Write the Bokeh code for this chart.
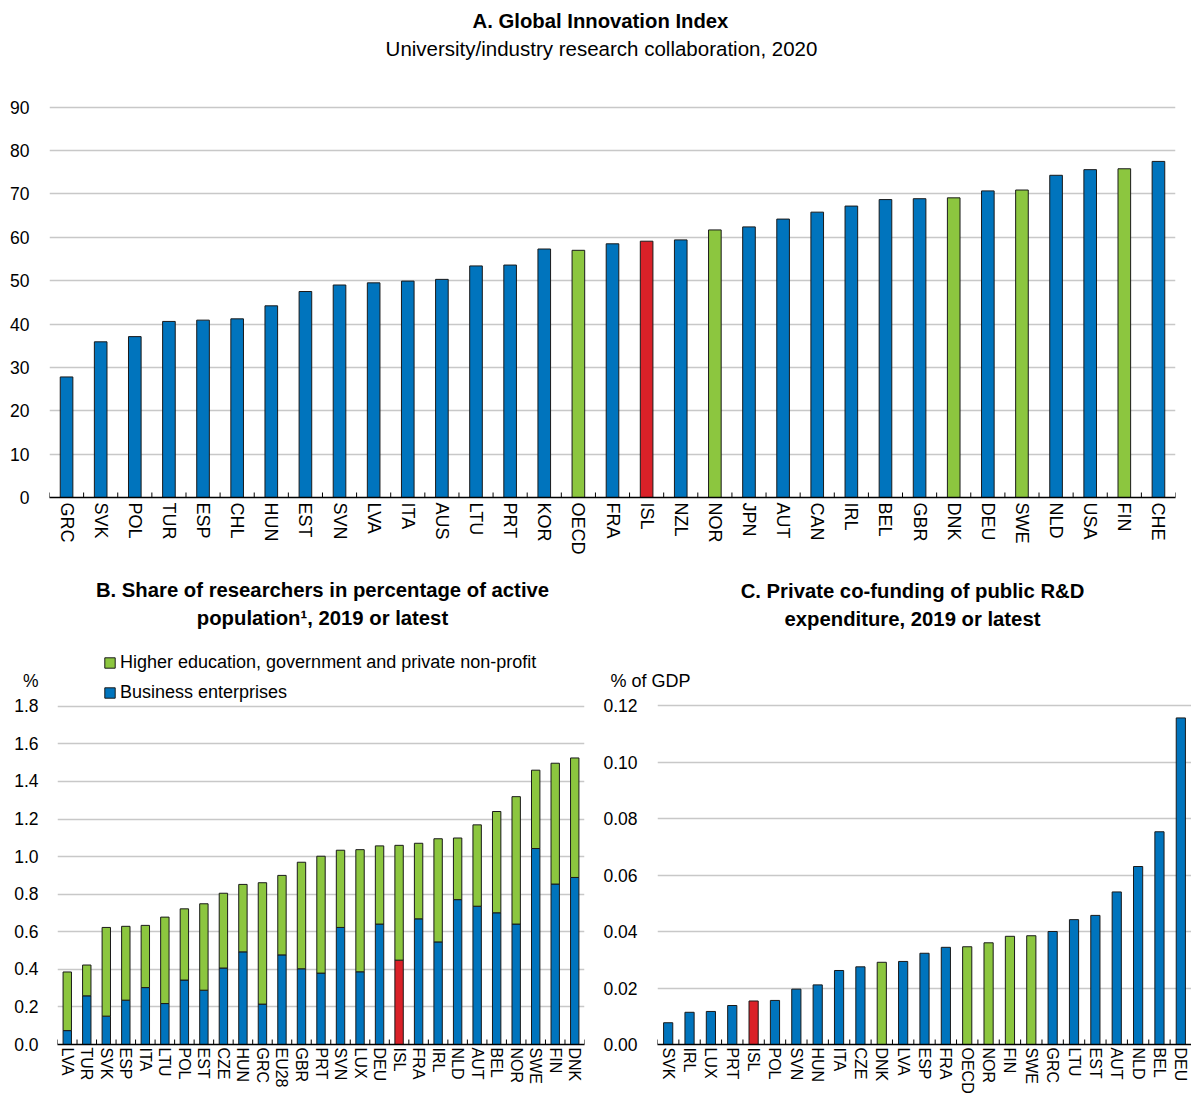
import numpy as np
from bokeh.plotting import figure
from bokeh.models import (ColumnDataSource, FactorRange, Range1d, FixedTicker, Label,
                          Legend, LegendItem, PrintfTickFormatter, LinearAxis)
from bokeh.layouts import column, row
from bokeh.embed import file_html
from bokeh.resources import INLINE

# ---------------- data ----------------
# Panel A: Global Innovation Index, university/industry research collaboration, 2020
a_countries = ["GRC", "SVK", "POL", "TUR", "ESP", "CHL", "HUN", "EST", "SVN", "LVA", "ITA",
               "AUS", "LTU", "PRT", "KOR", "OECD", "FRA", "ISL", "NZL", "NOR", "JPN", "AUT",
               "CAN", "IRL", "BEL", "GBR", "DNK", "DEU", "SWE", "NLD", "USA", "FIN", "CHE"]
a_values = [27.8, 35.9, 37.1, 40.6, 40.9, 41.2, 44.2, 47.5, 49.0, 49.5, 49.9,
            50.3, 53.4, 53.6, 57.3, 57.0, 58.5, 59.1, 59.4, 61.7, 62.4, 64.2,
            65.8, 67.2, 68.7, 68.9, 69.1, 70.7, 70.9, 74.3, 75.6, 75.8, 77.5]
a_ticks = [0, 10, 20, 30, 40, 50, 60, 70, 80, 90]

# Panel B: share of researchers in % of active population
b_countries = ["LVA", "TUR", "SVK", "ESP", "ITA", "LTU", "POL", "EST", "CZE", "HUN", "GRC",
               "EU28", "GBR", "PRT", "SVN", "LUX", "DEU", "ISL", "FRA", "IRL", "NLD", "AUT",
               "BEL", "NOR", "SWE", "FIN", "DNK"]
b_business = [0.074, 0.259, 0.151, 0.236, 0.303, 0.218, 0.343, 0.289, 0.407, 0.493, 0.215,
              0.477, 0.403, 0.380, 0.623, 0.387, 0.641, 0.449, 0.669, 0.546, 0.771, 0.736,
              0.701, 0.641, 1.043, 0.854, 0.889]
b_higher = [0.312, 0.164, 0.472, 0.393, 0.331, 0.460, 0.379, 0.460, 0.398, 0.359, 0.646,
            0.423, 0.567, 0.622, 0.411, 0.650, 0.416, 0.611, 0.402, 0.549, 0.328, 0.433,
            0.539, 0.678, 0.417, 0.643, 0.636]
b_ticks = [0.0, 0.2, 0.4, 0.6, 0.8, 1.0, 1.2, 1.4, 1.6, 1.8]
b_series = ["Higher education, government and private non-profit", "Business enterprises"]

# Panel C: private co-funding of public R&D expenditure, % of GDP
c_countries = ["SVK", "IRL", "LUX", "PRT", "ISL", "POL", "SVN", "HUN", "ITA", "CZE", "DNK",
               "LVA", "ESP", "FRA", "OECD", "NOR", "FIN", "SWE", "GRC", "LTU", "EST", "AUT",
               "NLD", "BEL", "DEU"]
c_values = [0.0077, 0.0114, 0.0117, 0.0138, 0.0154, 0.0156, 0.0196, 0.0211, 0.0262, 0.0275,
            0.0291, 0.0294, 0.0323, 0.0344, 0.0346, 0.0360, 0.0383, 0.0385, 0.0400, 0.0442,
            0.0457, 0.0540, 0.0630, 0.0753, 0.1156]
c_ticks = [0.0, 0.02, 0.04, 0.06, 0.08, 0.10, 0.12]

# ---------------- style ----------------
FONT = "Liberation Sans"
BLUE = "#0074BD"
GREEN = "#8CC63F"
RED = "#DA2128"
GRID = "#C8C8C8"
NORDIC = {"OECD", "NOR", "DNK", "SWE", "FIN"}


def colour(c):
    if c == "ISL":
        return RED
    return GREEN if c in NORDIC else BLUE


def style(p, ticks, fmt, xfont, ystand, xstand):
    p.outline_line_color = None
    p.xgrid.grid_line_color = None
    p.ygrid.ticker = FixedTicker(ticks=ticks)
    p.ygrid.grid_line_color = GRID
    p.ygrid.grid_line_width = 1.6
    p.yaxis.ticker = FixedTicker(ticks=ticks)
    p.yaxis.formatter = PrintfTickFormatter(format=fmt)
    p.yaxis.axis_line_color = None
    p.yaxis.major_tick_line_color = None
    p.yaxis.minor_tick_line_color = None
    p.yaxis.major_tick_out = 0
    p.yaxis.major_tick_in = 0
    p.yaxis.major_label_standoff = ystand
    p.yaxis.major_label_text_font = FONT
    p.yaxis.major_label_text_font_size = "17.5px"
    p.yaxis.major_label_text_color = "black"
    p.xaxis.axis_line_color = "black"
    p.xaxis.axis_line_width = 1.3
    p.xaxis.major_tick_line_color = None
    p.xaxis.major_tick_out = 0
    p.xaxis.major_tick_in = 0
    p.xaxis.axis_label = None
    p.xaxis.axis_label_standoff = 0
    p.xaxis.major_label_orientation = "vertical"
    p.xaxis.major_label_standoff = xstand
    p.xaxis.major_label_text_font = FONT
    p.xaxis.major_label_text_font_size = xfont
    p.xaxis.major_label_text_color = "black"


def add_text(p, x, y, text, size, bold=False, align="center"):
    p.add_layout(Label(x=x, y=y, text=text, text_font=FONT, text_font_size=size,
                       text_font_style="bold" if bold else "normal", text_align=align,
                       text_baseline="middle", text_color="black"))


# ---------------- Panel A ----------------
# frame geometry in page pixels (page has no offset)
A_left, A_right, A_top, A_bottom, A_y90 = 49, 1175, 0, 497, 106.7
A_ppu = (A_bottom - A_y90) / 90
A_ymax = (A_bottom - A_top) / A_ppu
nA = len(a_countries)
A_step = (A_right - A_left) / nA

pA = figure(width=1191, height=560, x_range=FactorRange(*a_countries),
            y_range=Range1d(0, A_ymax), output_backend="svg", toolbar_location=None,
            min_border_left=A_left, min_border_right=1191 - A_right,
            min_border_top=0, min_border_bottom=560 - A_bottom)
srcA = ColumnDataSource(dict(cat=a_countries, val=a_values,
                             col=[colour(c) for c in a_countries]))
pA.vbar(x="cat", top="val", width=0.37, source=srcA, fill_color="col",
        line_color="#1a1a1a", line_width=1)
pA.segment(x0=list(range(nA + 1)), y0=0, x1=list(range(nA + 1)), y1=5 / A_ppu,
           line_color="black", line_width=1)
style(pA, a_ticks, "%d", "18px", 20, 5)


def ax(px):
    return (px - A_left) / A_step


def ay(py):
    return (A_bottom - py) / A_ppu


add_text(pA, ax(600), ay(20), "A. Global Innovation Index", "20.3px", bold=True)
add_text(pA, ax(601), ay(48), "University/industry research collaboration, 2020", "20.5px")

# ---------------- Panel B ----------------
B_left, B_right, B_top, B_bottom, B_y18 = 57, 584, 560, 1047, 706.7
B_ppu = (B_bottom - B_y18) / 1.8
B_ymax = (B_bottom - B_top) / B_ppu
nB = len(b_countries)
B_step = (B_right - B_left) / nB


def bx(px):
    return (px - B_left) / B_step


def by(py):
    return (B_bottom - py) / B_ppu


pB = figure(width=600, height=537, x_range=FactorRange(*b_countries),
            y_range=Range1d(0, B_ymax), output_backend="svg", toolbar_location=None,
            min_border_left=B_left, min_border_right=600 - B_right,
            min_border_top=0, min_border_bottom=1097 - B_bottom)
srcB = ColumnDataSource(dict(cat=b_countries, business=b_business, higher=b_higher,
                             bcol=[RED if c == "ISL" else BLUE for c in b_countries]))
rB = pB.vbar_stack(["business", "higher"], x="cat", width=0.43, source=srcB,
                   fill_color=["bcol", GREEN], line_color="#1a1a1a", line_width=1)
pB.segment(x0=list(range(nB + 1)), y0=0, x1=list(range(nB + 1)), y1=5 / B_ppu,
           line_color="black", line_width=1)
style(pB, b_ticks, "%.1f", "16px", 19, 3)
# unit label "%" shown as an extra label on the y axis
pct_y = round(by(681), 4)
pB.yaxis.ticker = FixedTicker(ticks=b_ticks + [pct_y])
pB.yaxis.major_label_overrides = {pct_y: "%"}

add_text(pB, bx(322), by(590), "B. Share of researchers in percentage of active", "20.3px", bold=True)
add_text(pB, bx(322), by(618), "population\u00b9, 2019 or latest", "20.3px", bold=True)

legB = Legend(items=[LegendItem(label=b_series[0], renderers=[rB[1]]),
                     LegendItem(label=b_series[1], renderers=[rB[0]], index=0)],
              location=(46, B_bottom - 706), orientation="vertical",
              background_fill_alpha=0, border_line_color=None, padding=0, margin=0,
              spacing=9, glyph_width=13, glyph_height=13, label_height=20,
              label_standoff=4, label_text_font=FONT, label_text_font_size="18px",
              label_text_color="black")
pB.add_layout(legB)

# ---------------- Panel C ----------------
C_x0 = 600
C_left, C_right, C_top, C_bottom, C_y12 = 657, 1191, 560, 1044, 705
C_ppu = (C_bottom - C_y12) / 0.12
C_ymax = (C_bottom - C_top) / C_ppu
nC = len(c_countries)
C_step = (C_right - C_left) / nC


def cx(px):
    return (px - C_left) / C_step


def cy(py):
    return (C_bottom - py) / C_ppu


pC = figure(width=591, height=537, x_range=FactorRange(*c_countries),
            y_range=Range1d(0, C_ymax), output_backend="svg", toolbar_location=None,
            min_border_left=C_left - C_x0, min_border_right=1191 - C_right,
            min_border_top=0, min_border_bottom=1097 - C_bottom)
srcC = ColumnDataSource(dict(cat=c_countries, val=c_values,
                             col=[colour(c) for c in c_countries]))
pC.vbar(x="cat", top="val", width=0.43, source=srcC, fill_color="col",
        line_color="#1a1a1a", line_width=1)
pC.segment(x0=list(range(nC + 1)), y0=0, x1=list(range(nC + 1)), y1=5 / C_ppu,
           line_color="black", line_width=1)
style(pC, c_ticks, "%.2f", "16px", 20, 3)

add_text(pC, cx(912), cy(590), "C. Private co-funding of public R&D", "20.3px", bold=True)
add_text(pC, cx(912), cy(618), "expenditure, 2019 or latest", "20.3px", bold=True)

# unit label "% of GDP": a second, label-only y axis
unit_y = round(cy(681), 5)
unit_axis = LinearAxis(ticker=FixedTicker(ticks=[unit_y]),
                       major_label_overrides={unit_y: "% of GDP"},
                       axis_line_color=None, major_tick_line_color=None,
                       minor_tick_line_color=None, major_tick_out=0, major_tick_in=0,
                       major_label_standoff=-90, major_label_text_font=FONT,
                       major_label_text_font_size="18px", major_label_text_color="black")
pC.add_layout(unit_axis, "left")

layout = column(pA, row(pB, pC, spacing=0), spacing=0)
open("out.html", "w").write(file_html(layout, INLINE))
